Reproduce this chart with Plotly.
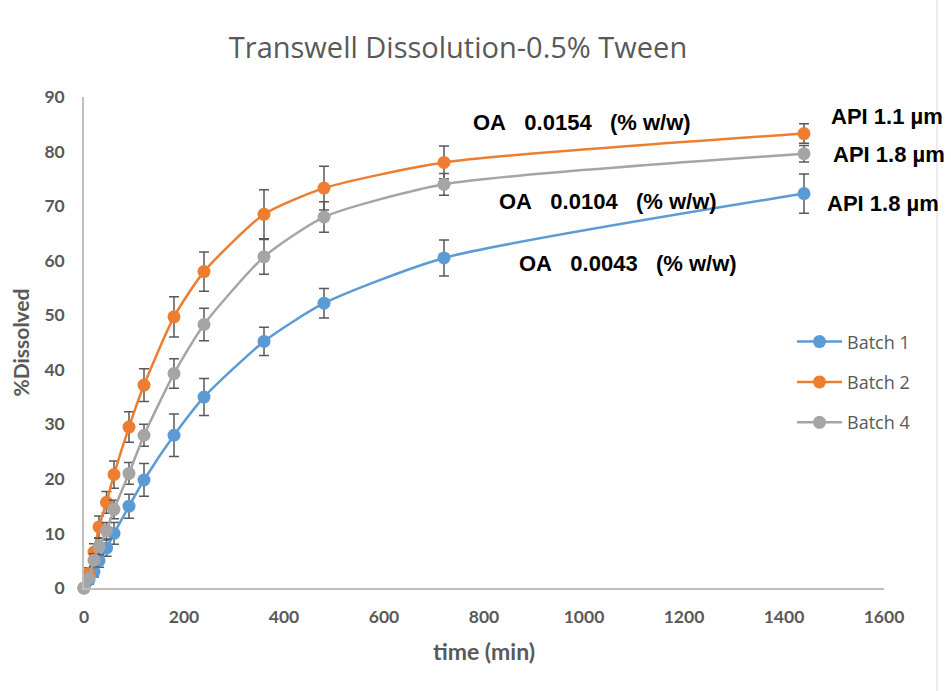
import plotly.graph_objects as go

time_min = [0, 10, 20, 30, 45, 60, 90, 120, 180, 240, 360, 480, 720, 1440]

batch1 = [0, 1.5, 3.0, 5.0, 7.3, 10.0, 15.0, 19.8, 28.0, 35.0, 45.2, 52.2, 60.5, 72.3]
batch1_err = [0, 0.8, 1.0, 1.2, 1.5, 2.0, 2.2, 3.0, 3.9, 3.4, 2.6, 2.7, 3.3, 3.6]

batch2 = [0, 2.7, 6.6, 11.2, 15.7, 20.8, 29.5, 37.2, 49.7, 58.0, 68.5, 73.3, 78.0, 83.3]
batch2_err = [0, 1.0, 1.5, 2.0, 2.0, 2.5, 2.8, 3.0, 3.7, 3.6, 4.5, 4.0, 3.0, 1.8]

batch4 = [0, 1.8, 5.1, 7.6, 10.5, 14.4, 21.0, 28.0, 39.3, 48.3, 60.7, 68.0, 74.0, 79.6]
batch4_err = [0, 0.8, 1.2, 1.5, 1.5, 1.7, 2.0, 2.0, 2.7, 3.0, 3.2, 2.8, 2.0, 1.5]

series_names = ["Batch 1", "Batch 2", "Batch 4"]
series_values = [batch1, batch2, batch4]
series_errors = [batch1_err, batch2_err, batch4_err]
series_colors = ["#5b9bd5", "#ed7d31", "#a5a5a5"]

NB = "\u00a0"
oa_labels = ["OA" + NB * 3 + "0.0154" + NB * 3 + "(%" + NB + "w/w)",
             "OA" + NB * 3 + "0.0104" + NB * 3 + "(%" + NB + "w/w)",
             "OA" + NB * 3 + "0.0043" + NB * 3 + "(%" + NB + "w/w)"]
oa_pos = [(774, 85.4), (826, 70.9), (866, 59.4)]
api_labels = ["API" + NB + "1.1" + NB + "µm", "API" + NB + "1.8" + NB + "µm", "API" + NB + "1.8" + NB + "µm"]
api_pos = [(1490, 86.5), (1494, 79.5), (1482, 70.4)]

fig = go.Figure()
for name, vals, errs, col in zip(series_names, series_values, series_errors, series_colors):
    fig.add_trace(go.Scatter(
        x=time_min, y=vals, name=name, legendgroup=name,
        mode="lines+markers",
        line=dict(color=col, width=2.5, shape="spline", smoothing=0.6),
        marker=dict(color=col, size=13),
        error_y=dict(type="data", array=errs, visible=True,
                     color="#595959", thickness=1.5, width=5),
        cliponaxis=False,
    ))

annotations = []
for txt, (x, y) in zip(oa_labels + api_labels, oa_pos + api_pos):
    annotations.append(dict(x=x, y=y, xref="x", yref="y", text=txt, showarrow=False,
                            xanchor="left", yanchor="middle",
                            font=dict(family="Liberation Sans", size=22, color="#000000", weight="bold")))

fig.update_layout(
    width=951, height=691,
    margin=dict(l=84, r=67, t=97, b=103),
    paper_bgcolor="white", plot_bgcolor="white",
    title=dict(text="Transwell Dissolution-0.5% Tween", x=458 / 951,
               xanchor="center", y=1 - 48 / 691, yanchor="middle",
               font=dict(family="Open Sans", size=29, color="#595959")),
    xaxis=dict(range=[0, 1600], dtick=200, showgrid=False, zeroline=False,
               showline=True, linecolor="#bfbfbf", linewidth=1.5,
               ticks="", ticklabelstandoff=12,
               tickfont=dict(family="Lato", size=17.5, color="#595959", weight="bold"),
               title=dict(text="time (min)", standoff=18,
                          font=dict(family="Lato", size=23, color="#595959", weight="bold"))),
    yaxis=dict(range=[0, 90], dtick=10, showgrid=False, zeroline=False,
               showline=True, linecolor="#bfbfbf", linewidth=1.5,
               ticks="", ticklabelstandoff=14,
               tickfont=dict(family="Lato", size=17.5, color="#595959", weight="bold"),
               title=dict(text="%Dissolved", standoff=9,
                          font=dict(family="Lato", size=21, color="#595959", weight="bold"))),
    legend=dict(x=0.885, y=0.539, xanchor="left", yanchor="top",
                font=dict(family="Open Sans", size=18, color="#595959"),
                itemwidth=45, tracegroupgap=14, bgcolor="rgba(0,0,0,0)"),
    annotations=annotations,
    shapes=[dict(type="line", xref="paper", yref="paper",
                 x0=(937 - 84) / 800, x1=(937 - 84) / 800, y0=-0.25, y1=1.25,
                 line=dict(color="#d9d9d9", width=1))],
)

fig.write_html("out.html")
